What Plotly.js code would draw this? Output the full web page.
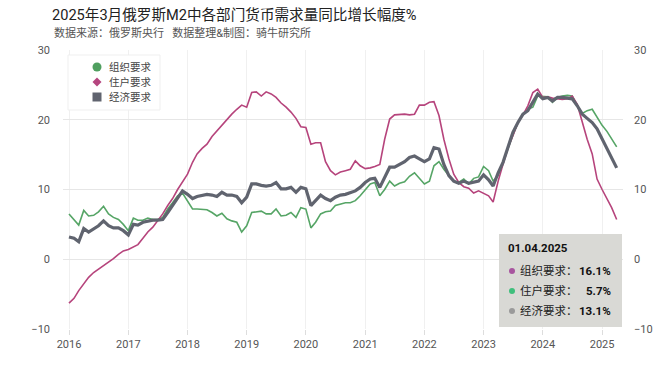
<!DOCTYPE html>
<html>
<head>
<meta charset="utf-8">
<script src="https://cdn.plot.ly/plotly-3.0.1.min.js"></script>
<style>
html,body{margin:0;padding:0;background:#fff;}
#chart{width:660px;height:371px;}
</style>
</head>
<body>
<div id="chart"></div>
<script>
// ---- data (monthly, 2016-01 .. 2025-04) ----
var startYear = 2016, startMonth = 1, nMonths = 112;
var seriesNames = ["组织要求", "住户要求", "经济要求"];
var orgDemand = [
  6.5, 5.7, 4.9, 7.0, 6.2, 6.3, 6.8, 7.6, 6.5, 6.0, 5.7, 5.0,
  4.1, 5.9, 5.6, 5.6, 5.9, 5.7, 5.7, 6.0, 7.2, 8.1, 9.1, 9.5,
  8.3, 7.2, 7.2, 7.2, 7.1, 6.7, 6.2, 6.6, 5.8, 5.5, 5.3, 3.9,
  4.8, 6.7, 6.8, 6.9, 6.5, 6.5, 7.2, 6.2, 6.3, 6.7, 6.0, 7.4,
  7.2, 4.5, 5.3, 6.5, 6.8, 6.9, 7.7, 7.9, 8.1, 8.1, 8.4, 9.1,
  10.0, 10.8, 11.0, 9.1, 10.0, 11.2, 10.5, 10.9, 11.1, 11.9, 12.4, 11.6,
  10.8, 11.2, 13.4, 14.0, 12.9, 12.0, 11.2, 11.0, 11.5, 10.8, 11.6, 11.8,
  13.3, 12.7, 11.2, 12.0, 14.0, 16.0, 17.8, 19.6, 20.8, 21.5, 21.8, 23.4,
  23.4, 23.3, 22.5, 23.2, 23.4, 23.5, 23.4, 22.0, 20.9, 21.3, 21.5, 20.3,
  19.2, 18.3, 17.2, 16.1
];
var householdDemand = [
  -6.3, -5.6, -4.5, -3.6, -2.6, -1.9, -1.4, -1.0, -0.4, 0.1, 0.7, 1.2,
  1.4, 1.8, 2.1, 3.0, 3.9, 4.6, 5.5, 6.5, 7.7, 8.7, 10.0, 11.0,
  12.2, 13.9, 15.1, 15.9, 16.5, 17.6, 18.4, 19.1, 19.9, 20.8, 21.5, 22.1,
  21.8, 23.9, 24.0, 23.4, 24.0, 23.7, 23.2, 22.4, 21.8, 21.1, 20.2, 19.0,
  18.9, 16.5, 16.7, 16.7, 14.0, 12.7, 12.1, 12.5, 12.7, 12.9, 14.1, 13.4,
  13.0, 13.1, 13.3, 13.6, 17.2, 20.1, 20.7, 20.8, 20.8, 20.7, 20.8, 22.1,
  22.1, 22.5, 22.6, 20.6, 17.2, 14.4, 12.2, 11.0, 10.4, 10.2, 9.5, 9.8,
  9.5, 9.1, 8.2, 11.2, 13.6, 16.0, 17.7, 19.6, 20.7, 22.0, 23.9, 24.4,
  23.2, 23.3, 23.1, 23.0, 22.9, 23.0, 23.4, 22.2, 19.6, 17.2, 15.1, 11.5,
  10.0, 8.7, 7.4, 5.7
];
var economyDemand = [
  3.2, 3.0, 2.5, 4.4, 3.9, 4.3, 4.8, 5.5, 4.8, 4.5, 4.5, 4.1,
  3.5, 5.0, 4.9, 5.3, 5.5, 5.6, 5.6, 5.7, 6.7, 7.7, 8.6, 9.8,
  9.3, 8.7, 9.0, 9.2, 9.3, 9.2, 9.0, 9.6, 9.2, 9.2, 9.0, 8.1,
  8.9, 10.8, 10.8, 10.6, 10.5, 10.6, 11.0, 10.1, 10.1, 10.3, 9.6, 10.3,
  10.1, 7.7, 8.4, 9.2, 8.7, 8.4, 8.9, 9.2, 9.3, 9.5, 9.8, 10.3,
  11.0, 11.5, 11.6, 10.3, 11.7, 13.2, 13.2, 13.6, 14.0, 14.6, 14.8, 14.4,
  14.0, 14.4, 16.0, 15.8, 13.6, 12.0, 11.2, 10.9, 11.2, 10.9, 11.1, 11.2,
  12.1, 11.4, 10.5, 12.4, 13.9, 16.0, 18.2, 19.6, 20.8, 21.3, 22.5, 23.7,
  23.0, 23.2, 22.7, 23.2, 23.2, 23.1, 23.0, 22.0, 20.8, 20.2, 19.6, 18.7,
  17.2, 15.8, 14.6, 13.1
];
var tooltipDate = "01.04.2025";
var tooltipValues = ["16.1%", "5.7%", "13.1%"];
var yTickVals = [-10, 0, 10, 20, 30];

// ---- build dates ----
var dates = [];
for (var i = 0; i < nMonths; i++) {
  var m = startMonth - 1 + i;
  var y = startYear + Math.floor(m / 12);
  var mm = (m % 12) + 1;
  dates.push(y + "-" + (mm < 10 ? "0" + mm : mm) + "-01");
}

var cGreen = "#56a566", cMag = "#b6447c", cGrey = "#60646f";

var traces = [
  {x: dates, y: orgDemand, name: seriesNames[0], mode: "lines", line: {color: cGreen, width: 1.6}, showlegend: false, hoverinfo: "skip"},
  {x: dates, y: householdDemand, name: seriesNames[1], mode: "lines", line: {color: cMag, width: 1.6}, showlegend: false, hoverinfo: "skip"},
  {x: dates, y: economyDemand, name: seriesNames[2], mode: "lines", line: {color: cGrey, width: 3.2}, showlegend: false, hoverinfo: "skip"},
  // invisible trace carrying the right-hand axis
  {x: [null], y: [null], yaxis: "y2", mode: "markers", showlegend: false, hoverinfo: "skip"}
];

var fontFam = "Roboto, 'Noto Sans CJK SC', sans-serif";
var tickFont = {family: fontFam, size: 11, color: "#555"};

var W = 660, H = 371, L = 63, R = 37, T = 50, B = 42;
var pw = W - L - R, ph = H - T - B;
function px(x) { return (x - L) / pw; }
function py(y) { return (H - B - y) / ph; }

var shapes = [];
var annotations = [];

// subtitle
annotations.push({xref: "paper", yref: "paper", x: px(52), y: py(33), xanchor: "left", yanchor: "middle",
  text: "数据来源：俄罗斯央行\u00a0\u00a0\u00a0数据整理&制图：骑牛研究所", showarrow: false,
  font: {family: fontFam, size: 11, color: "#555"}});

// legend (box, symbols, labels)
var legColors = ["#4f9f5f", "#b5457f", "#60646f"];
var legRows = [67, 82, 97];
shapes.push({type: "rect", xref: "paper", yref: "paper", x0: px(68), x1: px(160), y0: py(110), y1: py(55),
  fillcolor: "#fff", line: {color: "#efefef", width: 1}, layer: "above"});
var mx = 97;
shapes.push({type: "circle", xref: "paper", yref: "paper", x0: px(mx - 4.5), x1: px(mx + 4.5),
  y0: py(legRows[0] + 4.5), y1: py(legRows[0] - 4.5), fillcolor: legColors[0], line: {width: 0}, layer: "above"});
(function () {
  var cy = legRows[1], r = 4.5;
  var path = "M" + px(mx) + "," + py(cy - r) + " L" + px(mx + r) + "," + py(cy) + " L" + px(mx) + "," + py(cy + r) +
    " L" + px(mx - r) + "," + py(cy) + " Z";
  shapes.push({type: "path", xref: "paper", yref: "paper", path: path, fillcolor: legColors[1], line: {width: 0}, layer: "above"});
})();
shapes.push({type: "rect", xref: "paper", yref: "paper", x0: px(mx - 4.5), x1: px(mx + 4.5),
  y0: py(legRows[2] + 4.5), y1: py(legRows[2] - 4.5), fillcolor: legColors[2], line: {width: 0}, layer: "above"});
for (var j = 0; j < 3; j++) {
  annotations.push({xref: "paper", yref: "paper", x: px(107), y: py(legRows[j]), xanchor: "left", yanchor: "middle",
    text: seriesNames[j], showarrow: false, font: {family: fontFam, size: 10.5, color: "#444"}});
}

// tooltip-like box
var boxL = 499, boxR = 622, boxT = 234, boxB = 327;
var rowsY = [271, 291, 311];
var dotColors = ["#a8559f", "#3fbf7c", "#9a9a9a"];
shapes.push({type: "rect", xref: "paper", yref: "paper", x0: px(boxL), x1: px(boxR), y0: py(boxB), y1: py(boxT),
  fillcolor: "#d9d9d5", line: {width: 0}, layer: "above"});
annotations.push({xref: "paper", yref: "paper", x: px(506), y: py(248), xanchor: "left", yanchor: "middle",
  text: "<b>" + tooltipDate + "</b>", showarrow: false, font: {family: fontFam, size: 11.5, color: "#111"}});
for (var k = 0; k < 3; k++) {
  shapes.push({type: "circle", xref: "paper", yref: "paper",
    x0: px(509), x1: px(515), y0: py(rowsY[k] + 3), y1: py(rowsY[k] - 3),
    fillcolor: dotColors[k], line: {width: 0}, layer: "above"});
  annotations.push({xref: "paper", yref: "paper", x: px(518), y: py(rowsY[k]), xanchor: "left", yanchor: "middle",
    text: seriesNames[k] + "：", showarrow: false, font: {family: fontFam, size: 11.5, color: "#222"}});
  annotations.push({xref: "paper", yref: "paper", x: px(613), y: py(rowsY[k]), xanchor: "right", yanchor: "middle",
    text: "<b>" + tooltipValues[k] + "</b>", showarrow: false, font: {family: fontFam, size: 11.5, color: "#111"}});
}

var layout = {
  width: W, height: H,
  margin: {l: L, r: R, t: T, b: B, pad: 0},
  paper_bgcolor: "#fff", plot_bgcolor: "#fff",
  title: {text: "2025年3月俄罗斯M2中各部门货币需求量同比增长幅度%", x: 52 / W, xanchor: "left", xref: "container",
          y: 1 - 15 / H, yanchor: "middle", yref: "container",
          font: {family: fontFam, size: 14.6, color: "#222"}},
  showlegend: false,
  xaxis: {type: "date", range: ["2015-11-25", "2025-05-10"], dtick: "M12", tick0: "2016-01-01",
          tickformat: "%Y", showgrid: true, gridcolor: "#f0f0f0", gridwidth: 1,
          ticks: "outside", ticklen: 5, tickcolor: "#dddddd", zeroline: false, showline: false,
          tickfont: tickFont},
  yaxis: {range: [-10, 30], tickvals: yTickVals, showgrid: true, gridcolor: "#e6e6e6", gridwidth: 1,
          zeroline: false, showline: false, ticks: "", ticklabelstandoff: 12, tickfont: tickFont},
  yaxis2: {range: [-10, 30], tickvals: yTickVals, overlaying: "y", side: "right", showgrid: false,
           zeroline: false, showline: false, ticks: "", ticklabelstandoff: 10, tickfont: tickFont},
  shapes: shapes,
  annotations: annotations
};

Plotly.newPlot("chart", traces, layout, {displayModeBar: false, staticPlot: true});
</script>
</body>
</html>
